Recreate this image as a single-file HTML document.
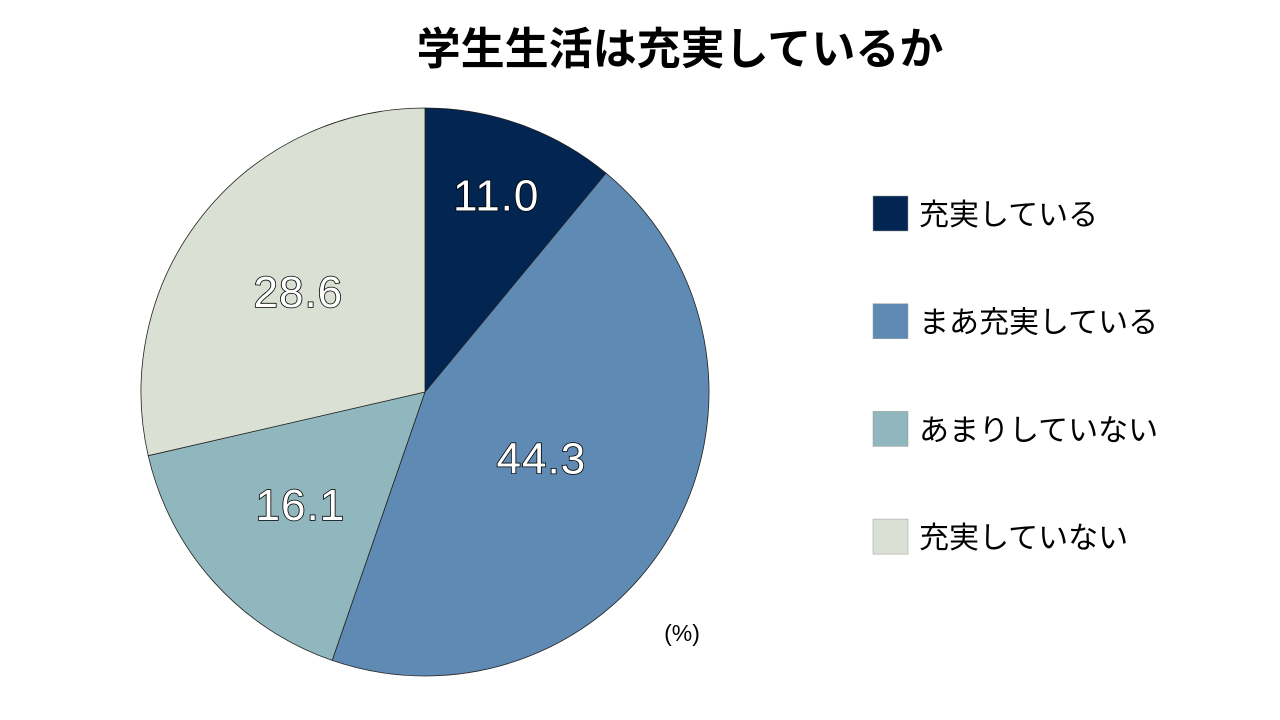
<!DOCTYPE html>
<html><head><meta charset="utf-8"><style>
html,body{margin:0;padding:0;background:#fff;width:1280px;height:720px;overflow:hidden}
svg{display:block}
</style></head><body>
<svg width="1280" height="720" viewBox="0 0 1280 720">
<text x="680" y="64" text-anchor="middle" font-family="'Liberation Sans','Noto Sans CJK JP',sans-serif" font-weight="bold" font-size="44">学生生活は充実しているか</text>
<g id="pie"></g>
<g id="labels"></g>
<g id="legend"></g>
<text x="682" y="641" text-anchor="middle" font-family="'Liberation Sans',sans-serif" font-size="23">(%)</text>
</svg>
<script>
const categories = ["充実している","まあ充実している","あまりしていない","充実していない"];
const values = [11.0, 44.3, 16.1, 28.6];
const valueLabels = ["11.0","44.3","16.1","28.6"];
const colors = ["#022552","#5f8ab4","#8fb7bd","#dbe0d4"];
const labelFrac = [0.74, 0.47, 0.59, 0.57];
const cx=425, cy=392, r=284;
const NS="http://www.w3.org/2000/svg";
const pie=document.getElementById('pie'), lab=document.getElementById('labels'), leg=document.getElementById('legend');
const total=values.reduce((a,b)=>a+b,0);
let acc=0;
function pt(a,rr){return [cx+rr*Math.sin(a), cy-rr*Math.cos(a)];}
values.forEach((v,i)=>{
  const a0=acc/total*2*Math.PI; acc+=v; const a1=acc/total*2*Math.PI;
  const p0=pt(a0,r), p1=pt(a1,r);
  const path=document.createElementNS(NS,'path');
  path.setAttribute('d',`M${cx},${cy} L${p0[0]},${p0[1]} A${r},${r} 0 ${a1-a0>Math.PI?1:0} 1 ${p1[0]},${p1[1]} Z`);
  path.setAttribute('fill',colors[i]); path.setAttribute('stroke','#222'); path.setAttribute('stroke-width','0.8');
  
  
  pie.appendChild(path);
  const m=(a0+a1)/2, lp=pt(m,r*labelFrac[i]);
  const t=document.createElementNS(NS,'text');
  t.setAttribute('x',lp[0]); t.setAttribute('y',lp[1]+16);
  t.setAttribute('text-anchor','middle'); t.setAttribute('font-family','Liberation Sans, sans-serif');
  t.setAttribute('font-size','44'); t.setAttribute('fill','#fff'); t.setAttribute('stroke','#000'); t.setAttribute('stroke-width','1.6');
  t.setAttribute('paint-order','stroke'); t.setAttribute('letter-spacing','1');
  t.textContent=valueLabels[i];
  
  
  lab.appendChild(t);
  const y=196+i*107.7;
  const rc=document.createElementNS(NS,'rect');
  rc.setAttribute('x',873); rc.setAttribute('y',y); rc.setAttribute('width',35); rc.setAttribute('height',35);
  rc.setAttribute('fill',colors[i]); rc.setAttribute('stroke','#999'); rc.setAttribute('stroke-width','0.5');
  
  
  leg.appendChild(rc);
  const lt=document.createElementNS(NS,'text');
  lt.setAttribute('x',919); lt.setAttribute('y',y+29);
  lt.setAttribute('font-family',"'Liberation Sans','Noto Sans CJK JP',sans-serif"); lt.setAttribute('font-size','30');
  lt.textContent=categories[i];
  
  
  leg.appendChild(lt);
});
</script>
</body></html>
